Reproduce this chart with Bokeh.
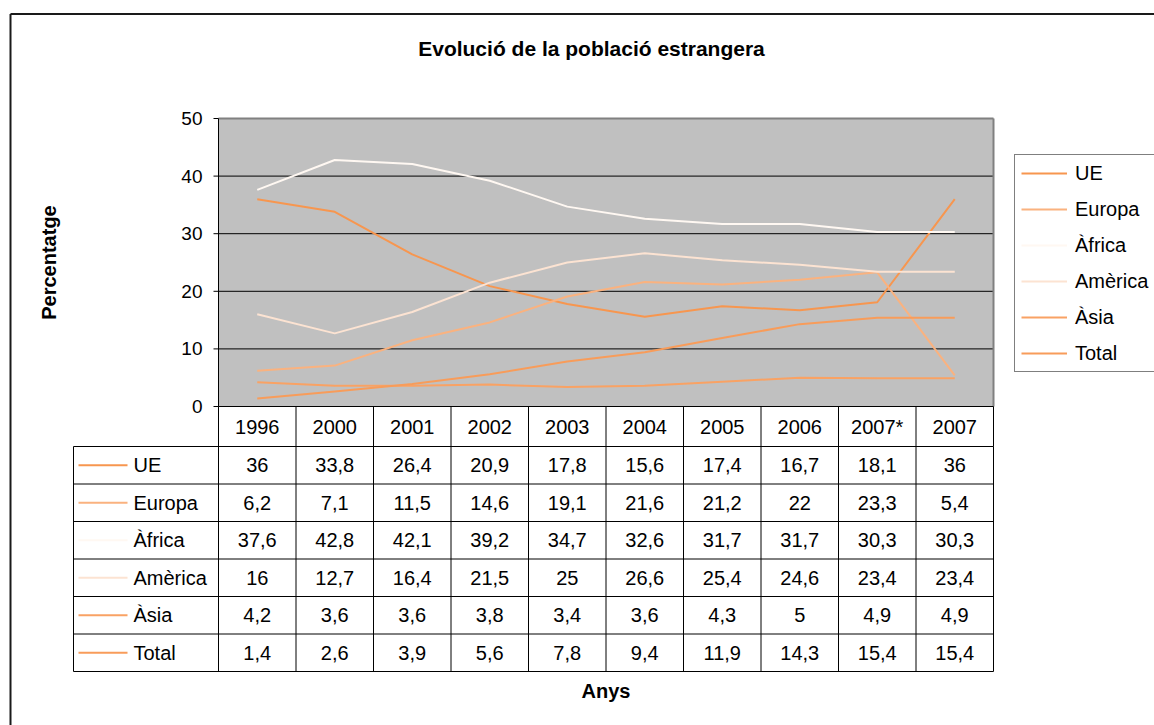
import math
from bokeh.plotting import figure
from bokeh.models import Range1d, Legend, LegendItem
from bokeh.embed import file_html
from bokeh.resources import INLINE
from bokeh.core.properties import value

# ---------------- data ----------------
years = ["1996", "2000", "2001", "2002", "2003", "2004", "2005", "2006", "2007*", "2007"]
series_names = ["UE", "Europa", "Àfrica", "Amèrica", "Àsia", "Total"]
ue = [36, 33.8, 26.4, 20.9, 17.8, 15.6, 17.4, 16.7, 18.1, 36]
europa = [6.2, 7.1, 11.5, 14.6, 19.1, 21.6, 21.2, 22, 23.3, 5.4]
africa = [37.6, 42.8, 42.1, 39.2, 34.7, 32.6, 31.7, 31.7, 30.3, 30.3]
america = [16, 12.7, 16.4, 21.5, 25, 26.6, 25.4, 24.6, 23.4, 23.4]
asia = [4.2, 3.6, 3.6, 3.8, 3.4, 3.6, 4.3, 5, 4.9, 4.9]
total = [1.4, 2.6, 3.9, 5.6, 7.8, 9.4, 11.9, 14.3, 15.4, 15.4]
y_ticks = [0, 10, 20, 30, 40, 50]

title_text = "Evolució de la població estrangera"
y_label = "Percentatge"
x_label = "Anys"

# ---------------- styles / layout (canvas pixels) ----------------
colors = ["#F7964F", "#FAB27F", "#FFF8F2", "#FCE3D2", "#F9A264", "#F89C5A"]
FONT = "Liberation Sans"
W, H = 1154, 725
FRAME_L, FRAME_R, FRAME_T, FRAME_B = 218, 993, 118, 406   # chart plot area
HEADER_H = 40          # header row of the data table
ROW_H = 37.5           # data table rows
TABLE_L = 73           # left edge of the row-label column
TICK_PX = 5
BORDER = (10, 13.5)    # outer frame corner (x, y)
TITLE_POS = (591, 48)
YLABEL_X = 48
XLABEL_Y = 690
LEGEND_LOC = (1014, 353)

all_series = [ue, europa, africa, america, asia, total]
n_cols = len(years)
n_rows = len(series_names)
xs = [i + 0.5 for i in range(n_cols)]


def fmt(v):
    return ("%g" % v).replace(".", ",")


XS = (FRAME_R - FRAME_L) / n_cols
YS = (FRAME_B - FRAME_T) / (y_ticks[-1] - y_ticks[0])
TABLE_TOP = FRAME_B + HEADER_H
TABLE_BOT = TABLE_TOP + n_rows * ROW_H
L = (FRAME_L - TABLE_L) / XS
HDR = HEADER_H / ROW_H

p = figure(width=W, height=H, title=None,
           x_range=Range1d(0, W), y_range=Range1d(H, 0),
           x_axis_location=None, y_axis_location=None,
           output_backend="svg", toolbar_location=None,
           min_border_left=0, min_border_right=0, min_border_top=0, min_border_bottom=0,
           background_fill_color="white", border_fill_color="white", outline_line_color=None)
for g in p.grid:
    g.visible = False

p.extra_x_ranges = {"cx": Range1d(-FRAME_L / XS, n_cols + (W - FRAME_R) / XS)}
p.extra_y_ranges = {
    "cy": Range1d(y_ticks[0] - (H - FRAME_B) / YS, y_ticks[-1] + FRAME_T / YS),
    "ty": Range1d(-(H - TABLE_BOT) / ROW_H, n_rows + TABLE_TOP / ROW_H),
}
C = dict(x_range_name="cx", y_range_name="cy")
T = dict(x_range_name="cx", y_range_name="ty")

# outer frame (left and top edges; the others lie outside the window)
p.segment(x0=[BORDER[0], BORDER[0]], y0=[BORDER[1], BORDER[1]], x1=[BORDER[0], W], y1=[H, BORDER[1]],
          line_color="#1a1a1a", line_width=2)

# title
p.text(x=[TITLE_POS[0]], y=[TITLE_POS[1]], text=[title_text], text_font=value(FONT),
       text_font_size="21px", text_font_style="bold", text_color="black",
       text_align="center", text_baseline="middle")

# chart plot area
y0, y1 = y_ticks[0], y_ticks[-1]
p.quad(left=[0], right=[n_cols], bottom=[y0], top=[y1], fill_color="#C0C0C0", line_color=None, **C)
inner = y_ticks[1:-1]
p.segment(x0=[0] * len(inner), x1=[n_cols] * len(inner), y0=inner, y1=inner,
          line_color="black", line_width=1, **C)
p.segment(x0=[0, n_cols], y0=[y1, y0], x1=[n_cols, n_cols], y1=[y1, y1],
          line_color="#808080", line_width=2, **C)
p.segment(x0=[0, 0], y0=[y0, y0], x1=[0, n_cols], y1=[y1, y0], line_color="black", line_width=1, **C)

# y axis ticks, labels, title
p.segment(x0=[-TICK_PX / XS] * len(y_ticks), x1=[0] * len(y_ticks), y0=y_ticks, y1=y_ticks,
          line_color="black", line_width=1, **C)
p.text(x=[0] * len(y_ticks), y=y_ticks, text=[str(t) for t in y_ticks], x_offset=-16,
       text_font=value(FONT), text_font_size="19px", text_color="black",
       text_align="right", text_baseline="middle", **C)
p.text(x=[YLABEL_X], y=[(y0 + y1) / 2], text=[y_label], angle=math.pi / 2,
       text_font=value(FONT), text_font_size="20px", text_font_style="bold", text_color="black",
       text_align="center", text_baseline="middle", y_range_name="cy")

# series lines
renderers = []
for vals, c in zip(all_series, colors):
    r = p.line(xs, vals, line_color=c, line_width=2, line_join="round", **C)
    renderers.append(r)

# data table: header row
p.segment(x0=list(range(n_cols + 1)), x1=list(range(n_cols + 1)),
          y0=[n_rows] * (n_cols + 1), y1=[n_rows + HDR] * (n_cols + 1),
          line_color="black", line_width=1, **T)
p.text(x=xs, y=[n_rows + HDR / 2] * n_cols, text=years, text_font=value(FONT),
       text_font_size="20px", text_color="black", text_align="center", text_baseline="middle", **T)

# data table: grid
vx = [-L] + list(range(n_cols + 1))
p.segment(x0=vx, x1=vx, y0=[0] * len(vx), y1=[n_rows] * len(vx), line_color="black", line_width=1, **T)
hy = list(range(n_rows + 1))
p.segment(x0=[-L] * len(hy), x1=[n_cols] * len(hy), y0=hy, y1=hy, line_color="black", line_width=1, **T)

# data table: values
tx, ty, tt = [], [], []
for i, vals in enumerate(all_series):
    for j, v in enumerate(vals):
        tx.append(xs[j])
        ty.append(n_rows - i - 0.5)
        tt.append(fmt(v))
p.text(x=tx, y=ty, text=tt, text_font=value(FONT), text_font_size="20px",
       text_align="center", text_baseline="middle", text_color="black", **T)

# data table: row labels with line keys
row_y = [n_rows - i - 0.5 for i in range(n_rows)]
p.segment(x0=[-L + 5 / XS] * n_rows, y0=row_y, x1=[-L + 54 / XS] * n_rows, y1=row_y,
          line_color=colors, line_width=2, **T)
p.text(x=[-L + 60 / XS] * n_rows, y=row_y, text=series_names, text_font=value(FONT),
       text_font_size="20px", text_align="left", text_baseline="middle", text_color="black", **T)

# x axis title
p.text(x=[n_cols / 2], y=[XLABEL_Y], text=[x_label], text_font=value(FONT), text_font_size="20px",
       text_font_style="bold", text_color="black", text_align="center", text_baseline="middle",
       x_range_name="cx")

# legend
legend = Legend(items=[LegendItem(label=n, renderers=[r]) for n, r in zip(series_names, renderers)],
                location=LEGEND_LOC, orientation="vertical", padding=6, spacing=12, margin=0,
                glyph_width=46, glyph_height=24, label_height=24, label_standoff=8,
                label_text_font=FONT, label_text_font_size="20px", label_text_color="black",
                border_line_color="black", border_line_width=1,
                background_fill_color="white", background_fill_alpha=1)
p.add_layout(legend)

open("out.html", "w").write(file_html(p, INLINE))
